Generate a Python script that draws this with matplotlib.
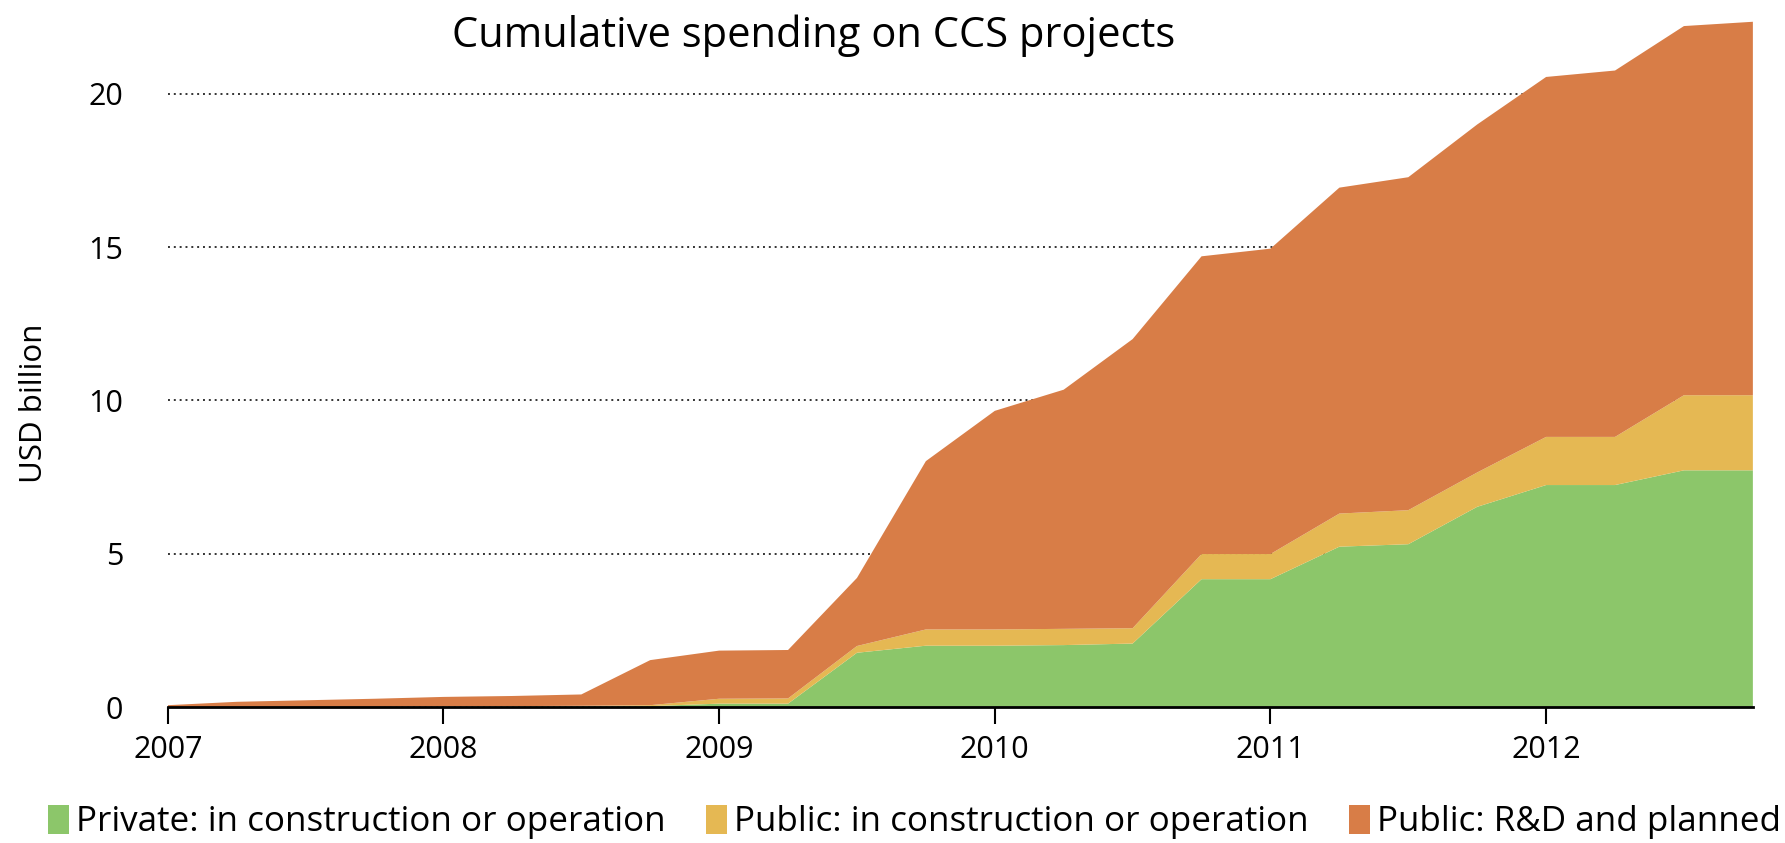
import numpy as np
import matplotlib
matplotlib.use("Agg")
import matplotlib.pyplot as plt
from matplotlib.patches import Patch

plt.rcParams['font.family'] = ['Open Sans', 'DejaVu Sans']

# --- Data (USD billion, quarterly) ---
quarters = ['2007Q1', '2007Q2', '2007Q3', '2007Q4',
            '2008Q1', '2008Q2', '2008Q3', '2008Q4',
            '2009Q1', '2009Q2', '2009Q3', '2009Q4',
            '2010Q1', '2010Q2', '2010Q3', '2010Q4',
            '2011Q1', '2011Q2', '2011Q3', '2011Q4',
            '2012Q1', '2012Q2', '2012Q3', '2012Q4']
private_built = [0, 0, 0, 0, 0, 0.01, 0.02, 0.03,
                 0.11, 0.11, 1.77, 2.0, 2.0, 2.02, 2.07, 4.17,
                 4.17, 5.23, 5.31, 6.53, 7.24, 7.24, 7.72, 7.72]
public_built = [0, 0, 0, 0, 0.02, 0.02, 0.02, 0.03,
                0.16, 0.17, 0.22, 0.53, 0.53, 0.53, 0.50, 0.82,
                0.82, 1.08, 1.11, 1.12, 1.57, 1.57, 2.45, 2.45]
public_rd = [0.06, 0.17, 0.22, 0.27, 0.31, 0.33, 0.37, 1.47,
             1.57, 1.58, 2.22, 5.49, 7.13, 7.80, 9.43, 9.71,
             9.96, 10.63, 10.86, 11.35, 11.74, 11.95, 12.04, 12.18]
labels = ['Private: in construction or operation',
          'Public: in construction or operation',
          'Public: R&D and planned']
colors = ['#8cc66a', '#e5b853', '#d87d47']
year_ticks = [2007, 2008, 2009, 2010, 2011, 2012]

# quarter label -> decimal year (start of quarter)
x = np.array([int(q[:4]) + (int(q[-1]) - 1) / 4 for q in quarters])

fig = plt.figure(figsize=(17.85, 8.43), dpi=100)
ax = fig.add_axes([0.094, 0.1613, 0.888, 0.8147])

ax.stackplot(x, private_built, public_built, public_rd,
             colors=colors, linewidth=0, zorder=2)

ax.set_xlim(2007, 2012.75)
ax.set_ylim(0, 22.4)
ax.set_yticks([0, 5, 10, 15, 20])
ax.set_xticks(year_ticks)
ax.yaxis.grid(True, linestyle=(0, (1, 2)), color='#333333', linewidth=1.4, zorder=1)
ax.set_axisbelow(True)

for s in ['left', 'right', 'top']:
    ax.spines[s].set_visible(False)
ax.spines['bottom'].set_linewidth(2)
ax.spines['bottom'].set_zorder(3)

ax.tick_params(axis='y', length=0, pad=32, labelsize=22)
ax.tick_params(axis='x', direction='out', length=12, width=1.5, pad=8, labelsize=22)

fig.text(0.456, 0.958, 'Cumulative spending on CCS projects', ha='center', va='center', fontsize=30)
fig.text(0.019, 0.521, 'USD billion', rotation=90, ha='center', va='center', fontsize=22.5)

handles = [Patch(facecolor=c, edgecolor='none') for c in colors]
fig.legend(handles, labels, loc='lower left', bbox_to_anchor=(0.019, -0.012), ncol=3,
           frameon=False, fontsize=25.2, handlelength=0.6, handleheight=0.9,
           handletextpad=0.2, columnspacing=1.15, borderaxespad=0)

fig.savefig('out.png', dpi=100)
